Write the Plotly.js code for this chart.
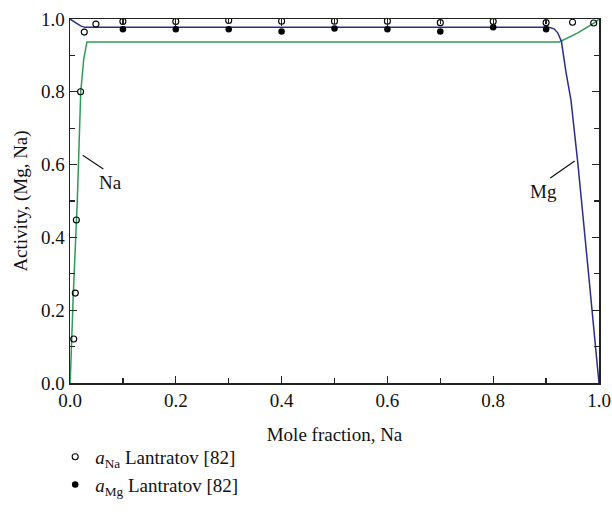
<!DOCTYPE html>
<html>
<head>
<meta charset="utf-8">
<script src="https://cdn.plot.ly/plotly-3.0.1.min.js"></script>
<style>
  html, body { margin: 0; padding: 0; background: #fff; }
  #chart { width: 612px; height: 525px; }
</style>
</head>
<body>
<div id="chart"></div>
<script>
// Measured activities (Lantratov [82])
const xNaMeasured = [0.007, 0.010, 0.012, 0.020, 0.027, 0.049, 0.1, 0.2, 0.3, 0.4, 0.5, 0.6, 0.7, 0.8, 0.9, 0.95, 0.99];
const yNaMeasured = [0.121, 0.247, 0.448, 0.800, 0.964, 0.986, 0.993, 0.993, 0.996, 0.994, 0.994, 0.994, 0.990, 0.993, 0.990, 0.991, 0.989];
const xMgMeasured = [0.1, 0.2, 0.3, 0.4, 0.5, 0.6, 0.7, 0.8, 0.9];
const yMgMeasured = [0.972, 0.972, 0.972, 0.966, 0.974, 0.972, 0.966, 0.977, 0.972];

// Calculated activity curves
const xNaCalc = [0, 0.0013, 0.0063, 0.0138, 0.0203, 0.026, 0.032, 0.5, 0.925, 0.96, 0.994, 1.0];
const yNaCalc = [0, 0.04, 0.247, 0.50, 0.80, 0.89, 0.937, 0.937, 0.937, 0.962, 0.992, 1.0];
const xMgCalc = [0, 0.01, 0.02, 0.028, 0.5, 0.905, 0.915, 0.922, 0.929, 0.9375, 0.947, 0.951, 0.96, 0.979, 1.0];
const yMgCalc = [1.0, 0.99, 0.981, 0.977, 0.977, 0.977, 0.973, 0.962, 0.938, 0.855, 0.777, 0.722, 0.604, 0.319, 0.0];

// Tick labels
const axisTicks = [0, 0.2, 0.4, 0.6, 0.8, 1.0];
const axisTickText = ['0.0', '0.2', '0.4', '0.6', '0.8', '1.0'];
const minorTicks = [0.1, 0.3, 0.5, 0.7, 0.9];

const serif = 'Liberation Serif';
const ink = '#111';
const blue = '#2a2e86';
const green = '#2f9a58';

const traces = [
  { x: xNaCalc, y: yNaCalc, mode: 'lines', line: { color: green, width: 1.5 }, showlegend: false, hoverinfo: 'skip' },
  { x: xMgCalc, y: yMgCalc, mode: 'lines', line: { color: blue, width: 1.5 }, showlegend: false, hoverinfo: 'skip' },
  { x: xNaMeasured, y: yNaMeasured, mode: 'markers', name: '<i>a</i><sub>Na</sub> Lantratov [82]',
    marker: { symbol: 'circle-open', size: 6, color: '#000', line: { width: 1.1, color: '#000' } } },
  { x: xMgMeasured, y: yMgMeasured, mode: 'markers', name: '<i>a</i><sub>Mg</sub> Lantratov [82]',
    marker: { symbol: 'circle', size: 6.5, color: '#000' } }
];

const axisCommon = {
  range: [0, 1],
  tickvals: axisTicks,
  ticktext: axisTickText,
  ticks: 'inside',
  ticklen: 7,
  tickwidth: 1.2,
  tickcolor: '#222',
  minor: { tickvals: minorTicks, ticks: 'inside', ticklen: 5, tickwidth: 1.2, tickcolor: '#222' },
  showline: true,
  linecolor: '#222',
  linewidth: 1.5,
  mirror: 'ticks',
  showgrid: false,
  zeroline: false,
  tickfont: { family: serif, size: 19, color: ink },
  fixedrange: true
};

const layout = {
  width: 612,
  height: 525,
  margin: { l: 70, r: 13, t: 19, b: 142 },
  paper_bgcolor: '#fff',
  plot_bgcolor: '#fff',
  font: { family: serif, size: 19, color: ink },
  xaxis: Object.assign({}, axisCommon, {
    title: { text: 'Mole fraction, Na', font: { family: serif, size: 19, color: ink }, standoff: 17 }
  }),
  yaxis: Object.assign({}, axisCommon, {
    title: { text: 'Activity, (Mg, Na)', font: { family: serif, size: 19, color: ink }, standoff: 8 }
  }),
  showlegend: true,
  legend: {
    x: -0.028, xanchor: 'left',
    y: -0.151, yanchor: 'top',
    font: { family: serif, size: 19, color: ink },
    bgcolor: 'rgba(0,0,0,0)',
    tracegroupgap: 0
  },
  shapes: [
    { type: 'line', xref: 'x', yref: 'y', x0: 0.024, y0: 0.626, x1: 0.063, y1: 0.588, line: { color: ink, width: 1.2 } },
    { type: 'line', xref: 'x', yref: 'y', x0: 0.954, y0: 0.61, x1: 0.908, y1: 0.563, line: { color: ink, width: 1.2 } }
  ],
  annotations: [
    { x: 0.077, y: 0.552, xref: 'x', yref: 'y', text: 'Na', showarrow: false, font: { family: serif, size: 19, color: ink } },
    { x: 0.895, y: 0.525, xref: 'x', yref: 'y', text: 'Mg', showarrow: false, font: { family: serif, size: 19, color: ink } }
  ]
};

Plotly.newPlot('chart', traces, layout, { displayModeBar: false, staticPlot: true });
</script>
</body>
</html>
